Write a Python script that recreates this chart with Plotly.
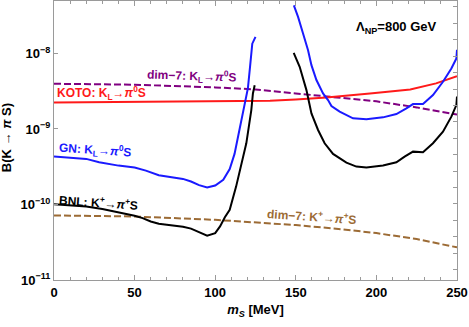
import numpy as np
import plotly.graph_objects as go

# ---------------- data (log10 of branching ratio) ----------------
koto_m = [0, 50, 100, 134, 150, 169, 196, 221, 237, 250]
koto_logB = [-8.648, -8.643, -8.634, -8.626, -8.608, -8.582, -8.529, -8.476, -8.396, -8.30]

dimKL_m = [0, 50, 100, 125, 150, 175, 200, 225, 250]
dimKL_logB = [-8.401, -8.414, -8.449, -8.476, -8.529, -8.577, -8.634, -8.714, -8.810]

dimKp_m = [0, 50, 100, 125, 150, 175, 200, 225, 250]
dimKp_logB = [-10.145, -10.159, -10.203, -10.235, -10.273, -10.32, -10.379, -10.458, -10.568]

gn_left_m = [0, 10, 20, 28, 40, 50, 57, 65, 74, 80, 85, 90, 95, 100, 105, 109, 112, 114, 116,
             117.5, 118.9, 120.3, 121.5, 122.4, 123.0, 125]
gn_left_logB = [-9.366, -9.38, -9.396, -9.44, -9.485, -9.511, -9.551, -9.612, -9.643, -9.661,
                -9.696, -9.744, -9.775, -9.749, -9.674, -9.53, -9.33, -9.12, -8.90,
                -8.76, -8.64, -8.46, -8.20, -8.00, -7.87, -7.78]

gn_right_m = [148.8, 151.4, 154.5, 157.6, 159.7, 162.8, 166.9, 170.0, 172.1, 177.2, 185.5, 193.8,
              204.1, 212.4, 218.6, 222.7, 228.9, 235.1, 241.3, 246.5, 249.6, 250]
gn_right_logB = [-7.362, -7.516, -7.736, -7.956, -8.154, -8.352, -8.529, -8.617, -8.696, -8.771,
                 -8.859, -8.872, -8.846, -8.802, -8.727, -8.67, -8.67, -8.551, -8.375, -8.198,
                 -8.066, -7.95]

bnl_left_m = [0, 10, 20, 30, 40, 50, 55, 60, 65, 72, 80, 85, 90, 95, 100, 103, 106, 109, 113,
              116, 119.3, 122.4, 123.4, 124.5]
bnl_left_logB = [-9.996, -10.01, -10.026, -10.06, -10.10, -10.15, -10.18, -10.225, -10.256,
                 -10.275, -10.295, -10.32, -10.37, -10.414, -10.38, -10.29, -10.17, -10.07,
                 -9.76, -9.50, -9.19, -8.75, -8.53, -8.42]

bnl_right_m = [148.7, 152.4, 156.6, 159.7, 163.8, 167.9, 173.1, 181.4, 187.6, 193.8, 204.1,
               212.4, 217.5, 222.7, 228.9, 235.1, 241.3, 246.5, 249.6, 250]
bnl_right_logB = [-7.991, -8.176, -8.485, -8.793, -9.013, -9.189, -9.33, -9.445, -9.498, -9.511,
                  -9.484, -9.44, -9.366, -9.30, -9.309, -9.189, -9.035, -8.837, -8.683, -8.57]

y_tick_exps = [-11, -10, -9, -8]
x_tick_vals = [0, 50, 100, 150, 200, 250]

# ---------------- figure ----------------
RED = "#ff1a1a"
BLUE = "#1a1aff"
PURPLE = "#800080"
BROWN = "#9c6b35"
BLACK = "#000000"
FRAME = "#9a9a9a"


def B(vals):
    return [10.0 ** v for v in vals]


fig = go.Figure()


def add_line(xs, ys, color, dash="solid", width=2):
    fig.add_trace(go.Scatter(x=xs, y=B(ys), mode="lines",
                             line=dict(color=color, width=width, dash=dash),
                             showlegend=False, hoverinfo="skip"))


dash_style = "7px,3px"
add_line(dimKp_m, dimKp_logB, BROWN, dash_style)
add_line(dimKL_m, dimKL_logB, PURPLE, dash_style)
add_line(koto_m, koto_logB, RED)
add_line(gn_left_m, gn_left_logB, BLUE)
add_line(gn_right_m, gn_right_logB, BLUE)
add_line(bnl_left_m, bnl_left_logB, BLACK)
add_line(bnl_right_m, bnl_right_logB, BLACK)

# invisible trace to activate the right-hand tick axis
fig.add_trace(go.Scatter(x=[None], y=[None], yaxis="y2", mode="lines",
                         showlegend=False, hoverinfo="skip"))

YR = [-11, -7.305]
font_family = "Liberation Sans, Arial, sans-serif"

fig.update_layout(
    width=469, height=327,
    margin=dict(l=54, r=12, t=1, b=47, autoexpand=False),
    plot_bgcolor="white", paper_bgcolor="white",
    font=dict(family=font_family, color="black"),
    hovermode=False,
    xaxis=dict(
        range=[0, 250], showgrid=False, zeroline=False, automargin=False,
        showline=True, linecolor=FRAME, linewidth=1, mirror="ticks",
        tickmode="array", tickvals=x_tick_vals, ticks="inside", ticklen=5, tickcolor=FRAME,
        minor=dict(dtick=10, ticks="inside", ticklen=3, tickcolor=FRAME),
        tickfont=dict(size=13, weight="bold", color="black"),
        title=dict(text="<i>m<sub>S</sub></i> [MeV]", font=dict(size=13, weight="bold"),
                   standoff=6),
    ),
    yaxis=dict(
        type="log", range=YR, showgrid=False, zeroline=False, automargin=False,
        showline=True, linecolor=FRAME, linewidth=1, mirror=False,
        tickmode="array", tickvals=[10.0 ** e for e in y_tick_exps],
        ticktext=["10<sup>\u2212%d</sup>" % (-e) for e in y_tick_exps],
        ticks="inside", ticklen=4, tickcolor=FRAME,
        tickfont=dict(size=13, weight="bold", color="black"),
    ),
    yaxis2=dict(
        type="log", range=YR, overlaying="y", side="right", anchor="x", automargin=False,
        showgrid=False, zeroline=False, showline=True, linecolor=FRAME, linewidth=1,
        tickmode="array",
        tickvals=[10.0 ** (-7.384 - 0.2174 * k) for k in range(17)],
        ticks="inside", ticklen=4, tickcolor=FRAME, showticklabels=False,
    ),
)


def ann(text, x, logy, color, angle=0, size=12):
    fig.add_annotation(x=x, y=logy, xref="x", yref="y", text=text, showarrow=False,
                       textangle=angle, xanchor="center", yanchor="middle",
                       font=dict(family=font_family, size=size, weight="bold", color=color))


ann("\u039b<sub>NP</sub>=800 GeV", 212.6, -7.652, "black", 0, 13)
ann("dim\u22127: K<sub>L</sub>\u2192<i>\u03c0</i><sup>0</sup>S", 85.1, -8.30, PURPLE, 2)
ann("KOTO: K<sub>L</sub>\u2192<i>\u03c0</i><sup>0</sup>S", 29.6, -8.521, RED, 0)
ann("GN: K<sub>L</sub>\u2192<i>\u03c0</i><sup>0</sup>S", 25.2, -9.278, BLUE, 4)
ann("BNL: K<sup>+</sup>\u2192<i>\u03c0</i><sup>+</sup>S", 27.4, -9.965, BLACK, 4)
ann("dim\u22127: K<sup>+</sup>\u2192<i>\u03c0</i><sup>+</sup>S", 159.9, -10.15, BROWN, 4)

# y-axis title
fig.add_annotation(x=-0.118, y=0.51, xref="paper", yref="paper",
                   text="B(K \u2192 <i>\u03c0</i> S)", showarrow=False, textangle=-90,
                   xanchor="center", yanchor="middle",
                   font=dict(family=font_family, size=13, weight="bold", color="black"))

fig.write_html("out.html",
               config={"displayModeBar": False, "staticPlot": True},
               post_script="document.body.style.margin='0';document.body.style.padding='0';")
